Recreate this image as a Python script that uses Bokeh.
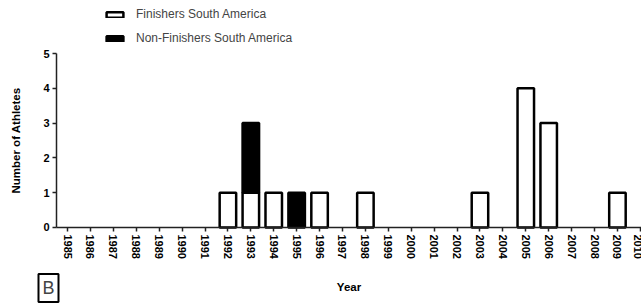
from bokeh.plotting import figure
from bokeh.models import Range1d, FixedTicker, Legend, LegendItem, Label, ColumnDataSource
from bokeh.embed import file_html
from bokeh.resources import INLINE

years = list(range(1985, 2011))
finishers = [0, 0, 0, 0, 0, 0, 0, 1, 1, 1, 0, 1, 0, 1, 0, 0, 0, 0, 1, 0, 4, 3, 0, 0, 1, 0]
non_finishers = [0, 0, 0, 0, 0, 0, 0, 0, 2, 0, 1, 0, 0, 0, 0, 0, 0, 0, 0, 0, 0, 0, 0, 0, 0, 0]
y_ticks = [0, 1, 2, 3, 4, 5]

FONT = "Liberation Sans"

f_src = ColumnDataSource(dict(
    x=[y for y, v in zip(years, finishers) if v > 0],
    top=[v for v in finishers if v > 0],
))
n_src = ColumnDataSource(dict(
    x=[y for y, f, n in zip(years, finishers, non_finishers) if n > 0],
    bottom=[f for f, n in zip(finishers, non_finishers) if n > 0],
    top=[f + n for f, n in zip(finishers, non_finishers) if n > 0],
))

X0, X1 = 1982.075, 2010.05
Y0, Y1 = -2.2414, 6.523
YAXIS_X = 1984.519

p = figure(width=641, height=305, output_backend="svg", toolbar_location=None,
           x_range=Range1d(X0, X1), y_range=Range1d(Y0, Y1),
           min_border_left=0, min_border_right=0, min_border_top=0, min_border_bottom=0)
p.outline_line_color = None
p.xgrid.visible = False
p.ygrid.visible = False

rf = p.vbar(x="x", top="top", bottom=0, width=0.72, source=f_src,
            fill_color="white", line_color="black", line_width=2.5)
rn = p.vbar(x="x", top="top", bottom="bottom", width=0.72, source=n_src,
            fill_color="black", line_color="black", line_width=2.5)

for ax in (p.xaxis[0], p.yaxis[0]):
    ax.axis_line_color = "#222222"
    ax.axis_line_width = 1.5
    ax.major_tick_line_color = "#222222"
    ax.major_tick_line_width = 1.5
    ax.major_tick_in = 0
    ax.major_tick_out = 4
    ax.minor_tick_line_color = None
    ax.major_label_text_font = FONT
    ax.major_label_text_font_style = "bold"
    ax.major_label_text_font_size = "11px"
    ax.major_label_text_color = "black"
    ax.axis_label_text_font = FONT
    ax.axis_label_text_font_style = "bold"
    ax.axis_label_text_font_size = "11.5px"
    ax.axis_label_text_color = "black"

p.xaxis.fixed_location = 0
p.xaxis.bounds = (YAXIS_X, X1 + 1)
p.xaxis.ticker = FixedTicker(ticks=years)
p.xaxis.major_label_orientation = "vertical"
p.xaxis.major_label_standoff = 3
p.xaxis.axis_label = "Year"
p.xaxis.axis_label_standoff = 19

p.yaxis.fixed_location = YAXIS_X
p.yaxis.bounds = (0, 5)
p.yaxis.ticker = FixedTicker(ticks=y_ticks)
p.yaxis.major_label_standoff = 3
p.yaxis.axis_label = "Number of Athletes"
p.yaxis.axis_label_standoff = 18

legend = Legend(items=[LegendItem(label="Finishers South America", renderers=[rf]),
                       LegendItem(label="Non-Finishers South America", renderers=[rn])],
                location=(104, 260), orientation="vertical",
                label_text_font=FONT, label_text_font_size="12px",
                glyph_width=21, glyph_height=7, label_height=14, label_standoff=11,
                spacing=10, padding=0, margin=0,
                border_line_alpha=0, background_fill_alpha=0)
p.add_layout(legend, "center")

p.add_layout(Label(x=48, y=17.5, x_units="screen", y_units="screen", text="B",
                   text_font=FONT, text_font_size="18px", text_align="center",
                   text_baseline="middle", border_line_color="black", border_line_width=2,
                   padding=4))

open("out.html", "w").write(file_html(p, INLINE))
